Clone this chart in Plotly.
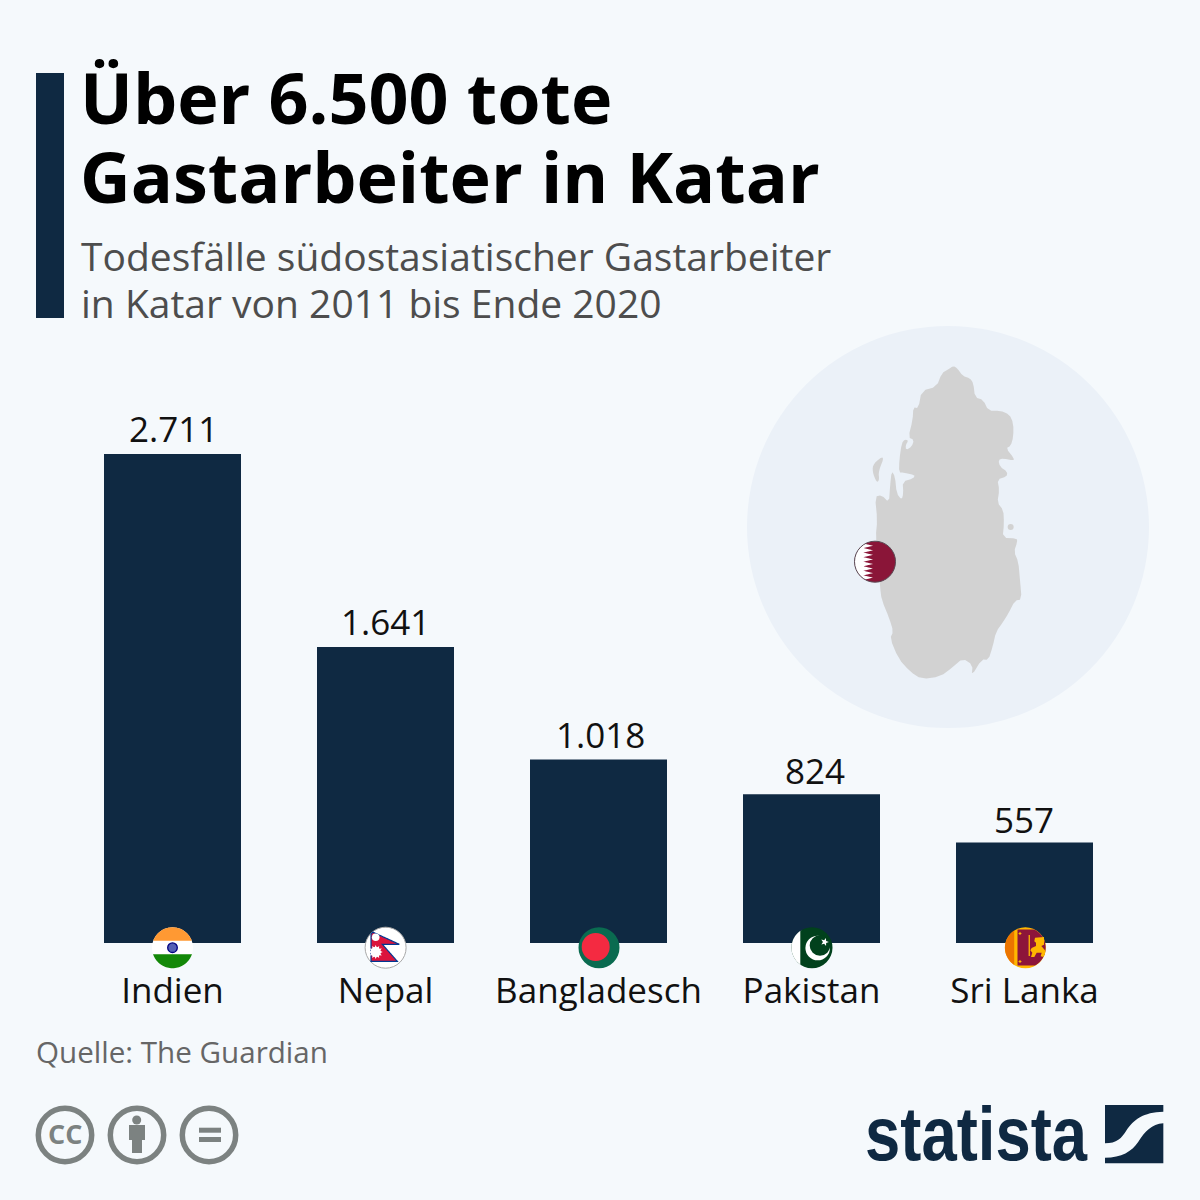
import numpy as np
import plotly.graph_objects as go

# chart data
countries = ["Indien", "Nepal", "Bangladesch", "Pakistan", "Sri Lanka"]
deaths = [2711, 1641, 1018, 824, 557]

# small nudges of the value labels as they sit in the picture, in pixels
label_dx = [1, 0, 2, 3, -1]
label_lift = [26, 26, 25, 24, 23]

title_lines = ["Über 6.500 tote", "Gastarbeiter in Katar"]
subtitle_lines = ["Todesfälle südostasiatischer Gastarbeiter", "in Katar von 2011 bis Ende 2020"]
source = "Quelle: The Guardian"

NAVY = "#0f2942"
BG = "#f5f9fc"
SIZE = 1200

shapes = []


def px(x):
    return x / SIZE


def py(y):
    return 1 - y / SIZE


def path_of(points, close=True):
    s = "M " + " L ".join(f"{px(x):.5f},{py(y):.5f}" for x, y in points)
    return s + (" Z" if close else "")


def add_poly(points, color, line=None, width=0):
    shapes.append(dict(type="path", path=path_of(points), xref="paper", yref="paper",
                       fillcolor=color, line=dict(color=line or color, width=width), layer="above"))


def add_circle(cx, cy, r, color, line=None, width=0):
    shapes.append(dict(type="circle", xref="paper", yref="paper", x0=px(cx - r), x1=px(cx + r),
                       y0=py(cy + r), y1=py(cy - r), fillcolor=color,
                       line=dict(color=line or color, width=width), layer="above"))


def add_rect(x0, y0, x1, y1, color):
    shapes.append(dict(type="rect", xref="paper", yref="paper", x0=px(x0), x1=px(x1),
                       y0=py(y1), y1=py(y0), fillcolor=color, line=dict(width=0), layer="above"))


def in_circle(points, cx, cy, r):
    # densify the edges, then push everything outside back on to the circle
    pts = []
    for (x0, y0), (x1, y1) in zip(points, points[1:] + points[:1]):
        for t in np.linspace(0, 1, 30, endpoint=False):
            pts.append((x0 + (x1 - x0) * t, y0 + (y1 - y0) * t))
    out = []
    for x, y in pts:
        d = np.hypot(x - cx, y - cy)
        if d > r:
            x, y = cx + (x - cx) * r / d, cy + (y - cy) * r / d
        out.append((x, y))
    return out


def star(cx, cy, r, tips=5, inner=0.42, rot=0.0):
    pts = []
    for i in range(tips * 2):
        a = rot + np.pi * i / tips - np.pi / 2
        rr = r if i % 2 == 0 else r * inner
        pts.append((cx + rr * np.cos(a), cy + rr * np.sin(a)))
    return pts


def soften(points, rounds=2):
    # corner cutting so the traced coast does not look angular
    for _ in range(rounds):
        out = []
        for (x0, y0), (x1, y1) in zip(points, points[1:] + points[:1]):
            out.append((0.75 * x0 + 0.25 * x1, 0.75 * y0 + 0.25 * y1))
            out.append((0.25 * x0 + 0.75 * x1, 0.25 * y0 + 0.75 * y1))
        points = out
    return points


# header bar
add_rect(36, 73, 64, 318, NAVY)

# map disc and Qatar outline (in crop coordinates)
add_circle(948, 527, 201, "#ebf1f8")
qatar = [(640, 138), (652, 145), (668, 168), (690, 175), (700, 190), (705, 232), (730, 240), (745, 272),
         (780, 272), (808, 283), (820, 310), (820, 350), (812, 378), (798, 385), (822, 415), (820, 422),
         (790, 415), (775, 420), (780, 440), (802, 455), (800, 470), (772, 478), (778, 510), (772, 548),
         (790, 570), (792, 610), (788, 654), (830, 655), (832, 665), (822, 695), (835, 725), (840, 780),
         (845, 838), (825, 842), (805, 880), (790, 905), (768, 935), (758, 980), (745, 1020), (725, 1018),
         (695, 1068), (698, 1035), (668, 1015), (640, 1040), (600, 1070), (545, 1077), (510, 1055),
         (475, 1015), (450, 955), (460, 935), (448, 895), (425, 840), (420, 800), (415, 720), (407, 650),
         (412, 600), (405, 530), (425, 525), (447, 548), (450, 500), (455, 452), (465, 470), (470, 520),
         (485, 540), (490, 520), (488, 485), (520, 475), (525, 465), (490, 458), (477, 457), (478, 420),
         (485, 370), (495, 358), (505, 362), (497, 375), (498, 390), (515, 380), (522, 360), (505, 352),
         (518, 300), (520, 262), (535, 265), (545, 212), (590, 200), (605, 160), (625, 148)]
islet = [(435, 405), (400, 430), (397, 455), (410, 488), (418, 480), (415, 455)]


def crop(points):
    return [(740 + x / 3, 320 + y / 3) for x, y in points]


add_poly(soften(crop(qatar), 1), "#d2d2d2")
add_poly(soften(crop(islet)), "#d2d2d2")
add_circle(740 + 812 / 3, 320 + 621 / 3, 3, "#d2d2d2")

# Qatar flag
cx, cy, r = 875, 561.7, 20.5
add_circle(cx, cy, r, "#8a1538")
teeth = [(cx - r - 2, cy - r - 2)]
for i in range(9):
    step = 2 * r / 9
    teeth += [(cx - 2, cy - r + i * step), (cx - 11.5, cy - r + (i + 0.5) * step)]
teeth += [(cx - 2, cy + r), (cx - r - 2, cy + r + 2)]
add_poly(in_circle(teeth, cx, cy, r), "white")
add_circle(cx, cy, r, "rgba(0,0,0,0)", "#5a4a55", 1)

# flags under the bars
fy, r = 947.7, 20.5

# India
cx = 172.5
add_circle(cx, fy, r, "white")
add_poly(in_circle([(cx - r, fy - r), (cx + r, fy - r), (cx + r, 940.7), (cx - r, 940.7)], cx, fy, r), "#ff9933")
add_poly(in_circle([(cx - r, 954.3), (cx + r, 954.3), (cx + r, fy + r), (cx - r, fy + r)], cx, fy, r), "#138808")
add_circle(cx, fy, 4.8, "#5560b5", "#000080", 1.3)

# Nepal
cx = 385.6
add_circle(cx, fy, r, "white", "#a9a9a9", 1)
pennant = [(371, 931.3), (399.3, 944.3), (382.3, 944.3), (397.3, 961.3), (371, 961.3)]
add_poly(in_circle(pennant, cx, fy, r - 0.5), "#dc143c", "#003893", 1.2)
add_circle(375.7, 937.2, 3.8, "white")
add_circle(375.7, 952, 5, "white")
add_poly(star(375.7, 952, 7, tips=12, inner=0.65), "white")

# Bangladesh
cx = 599
add_circle(cx, fy, r, "#0a6b50")
add_circle(595.7, fy - 0.7, 14, "#f42a41")

# Pakistan
cx = 812
add_circle(cx, fy, r, "#01411c")
add_poly(in_circle([(cx - r, fy - r), (800.3, fy - r), (800.3, fy + r), (cx - r, fy + r)], cx, fy, r), "white")
add_circle(817.7, 948, 12.3, "white")
add_circle(820, 945.5, 10.3, "#01411c")
add_poly(star(824.7, 942, 4.2, rot=0.3), "white")

# Sri Lanka
cx = 1025.4
add_circle(cx, fy, r, "#ffb700")
add_poly(in_circle([(cx - r, fy - r), (1014.2, fy - r), (1014.2, fy + r), (cx - r, fy + r)], cx, fy, r), "#eb7400")
add_poly(in_circle([(1017.5, 929.5), (cx + r, 929.5), (cx + r, 965.5), (1017.5, 965.5)], cx, fy, r - 0.3), "#8d153a")
lion = [(105, 47), (132, 45), (132, 68), (124, 72), (135, 85), (135, 95), (130, 105), (122, 103), (125, 92),
        (110, 92), (103, 105), (93, 105), (97, 92), (91, 85), (95, 78), (108, 72), (108, 62), (103, 58)]
add_poly([(1000 + x / 3, 922 + y / 3) for x, y in lion], "#ffb700")
add_poly([(1028.6, 935), (1029.9, 935), (1029.9, 956), (1028.6, 956)], "#ffb700")
add_poly(star(1020, 933.5, 1.8, tips=4, inner=0.5), "#ffb700")
add_poly(star(1020, 961.5, 1.8, tips=4, inner=0.5), "#ffb700")

# licence icons
ICON = "#7c8281"
for x in [65, 137, 209]:
    add_circle(x, 1135, 26.7, "rgba(0,0,0,0)", ICON, 5.5)
add_circle(136.7, 1120, 4.5, ICON)
add_rect(129, 1125, 145, 1140, ICON)
add_rect(132, 1125, 142, 1153, ICON)
add_rect(199, 1127.7, 221, 1132.7, ICON)
add_rect(199, 1137, 221, 1142, ICON)


# statista mark
def lx(x):
    return px(850 + x / 3)


def ly(y):
    return py(1090 + y / 3)


mark_top = (f"M {lx(765)},{ly(45)} L {lx(940)},{ly(45)} L {lx(940)},{ly(65)} "
            f"C {lx(880)},{ly(66)} {lx(850)},{ly(90)} {lx(830)},{ly(120)} "
            f"C {lx(815)},{ly(145)} {lx(800)},{ly(160)} {lx(765)},{ly(160)} Z")
mark_bottom = (f"M {lx(940)},{ly(100)} C {lx(905)},{ly(102)} {lx(885)},{ly(125)} {lx(865)},{ly(155)} "
               f"C {lx(845)},{ly(185)} {lx(815)},{ly(202)} {lx(765)},{ly(203)} "
               f"L {lx(765)},{ly(220)} L {lx(940)},{ly(220)} Z")
for p in [mark_top, mark_bottom]:
    shapes.append(dict(type="path", path=p, xref="paper", yref="paper", fillcolor=NAVY,
                       line=dict(width=0), layer="above"))

fig = go.Figure()
fig.add_trace(go.Bar(
    x=countries,
    y=deaths,
    marker=dict(color=NAVY, line=dict(width=0)),
    hoverinfo="skip",
))


def note(text, x, y, size, color, bold=False, family="Open Sans", anchor="left"):
    return dict(text=f"<b>{text}</b>" if bold else text, x=px(x), y=py(y), xref="paper", yref="paper",
                xanchor=anchor, yanchor="middle", showarrow=False,
                font=dict(family=family, size=size, color=color))


annotations = [
    note(title_lines[0], 78, 97, 70, "#000000", bold=True),
    note(title_lines[1], 78, 175.5, 70, "#000000", bold=True),
    note(subtitle_lines[0], 79, 255, 39, "#4d4d4d"),
    note(subtitle_lines[1], 79, 303, 39, "#4d4d4d"),
    note(source, 34, 1051, 29.6, "#666666"),
    note("CC", 65, 1133.5, 27, ICON, bold=True, anchor="center"),
    note("statista", 976, 1133, 76, NAVY, bold=True, family="Liberation Sans", anchor="center"),
]
for name, value, dx, lift in zip(countries, deaths, label_dx, label_lift):
    annotations.append(dict(text=f"{value:,}".replace(",", "."), x=name, y=value, xref="x", yref="y",
                            xanchor="center", yanchor="middle", xshift=dx, yshift=lift, showarrow=False,
                            font=dict(family="Open Sans", size=35, color="#111111")))

per_value = 489 / 2711  # pixels per death, bar height
fig.update_layout(
    width=SIZE,
    height=SIZE,
    margin=dict(l=0, r=0, t=0, b=0),
    paper_bgcolor=BG,
    plot_bgcolor=BG,
    showlegend=False,
    bargap=1 - 137 / 213,
    shapes=shapes,
    annotations=annotations,
    xaxis=dict(
        type="category",
        range=[-172.5 / 213, (SIZE - 172.5) / 213],
        showgrid=False,
        showline=False,
        ticks="",
        ticklabelstandoff=24,
        tickfont=dict(family="Open Sans", size=35, color="#111111"),
        domain=[0, 1],
    ),
    yaxis=dict(
        range=[0, 943 / per_value],
        domain=[1 - 943 / SIZE, 1],
        visible=False,
    ),
)

# the logo face is narrower than anything installed, so squeeze the real text to its width
squeeze = """
document.body.style.margin='0';document.body.style.overflow='hidden';
document.querySelectorAll('.annotation-text').forEach(function(t){
  if(t.textContent==='statista'){
    t.setAttribute('textLength','222');t.setAttribute('lengthAdjust','spacingAndGlyphs');
  }
});
"""
fig.write_html("out.html", config=dict(displayModeBar=False), post_script=squeeze)
